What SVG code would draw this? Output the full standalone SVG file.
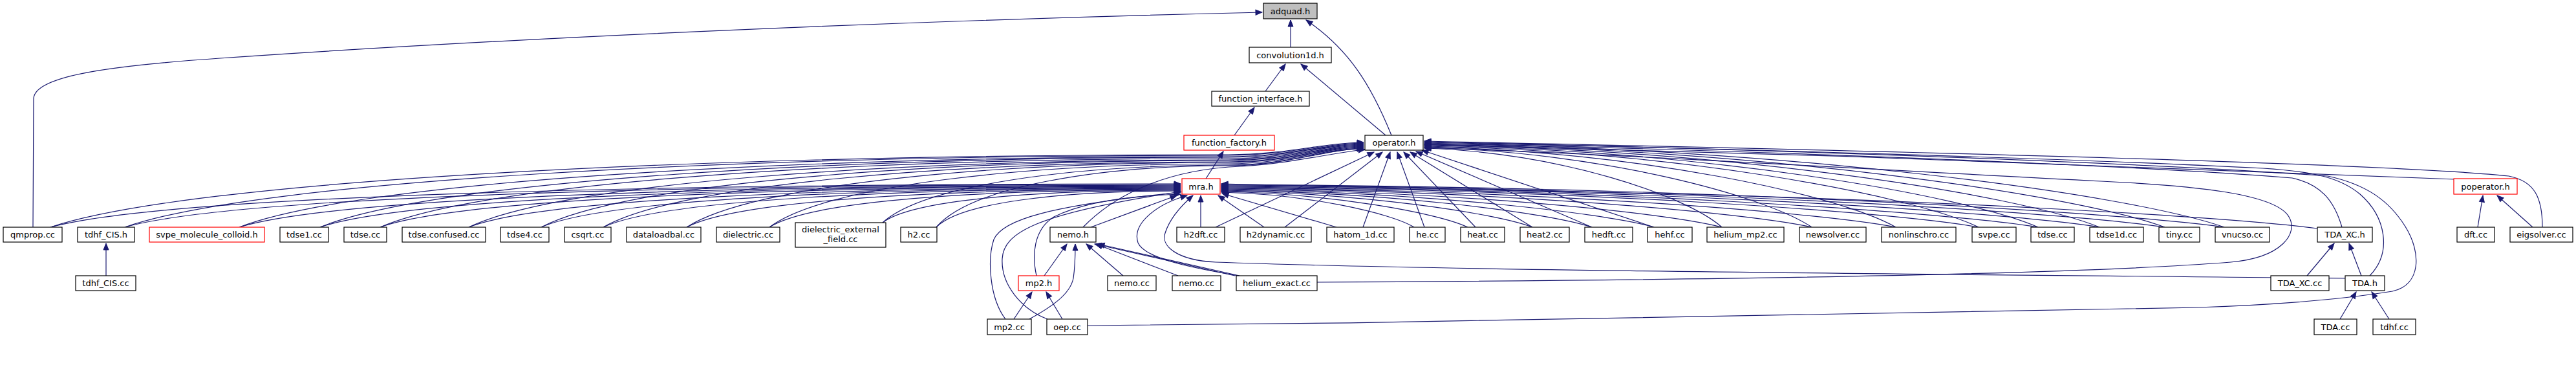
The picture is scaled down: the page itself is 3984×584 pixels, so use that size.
<svg xmlns="http://www.w3.org/2000/svg" width="3984" height="584" viewBox="0 0 3984 584">
<defs>
<marker id="ah" viewBox="0 0 12 10" refX="11" refY="5" markerWidth="12" markerHeight="10" orient="auto" markerUnits="userSpaceOnUse">
<path d="M1,1 L11,5 L1,9 Z" fill="#191970" stroke="#191970" stroke-width="1"/>
</marker>
<style>
.n rect{fill:#fff;stroke:#000;stroke-width:1.2}
.n.red rect{stroke:#ff0000}
.n.root rect{fill:#bfbfbf}
.n text{font-family:"DejaVu Sans","Liberation Sans",sans-serif;font-size:13px;fill:#000;text-anchor:middle}
#edges path{fill:none;stroke:#191970;stroke-width:1.2;marker-end:url(#ah)}
</style>
</defs>
<rect width="3984" height="584" fill="#fff"/>
<g id="edges">
<!-- top structure -->
<path d="M1996,73 L1996,31"/>
<path d="M2152,209 C2120,130 2085,75 2020,31"/>
<path d="M51,351 C51,260 52,190 52,152 C54,120 150,103 340,90 C800,58 1400,32 1952,19"/>
<path d="M1957,141 L1988,99"/>
<path d="M2143,209 L2012,99"/>
<path d="M1909,209 L1940,166"/>
<path d="M1865,276 L1892,234"/>
<!-- left nodes to mra.h -->
<path d="M78,351 C253,304 953,284 1826,284"/>
<path d="M193,351 C357,305 1011,285 1826,285"/>
<path d="M370,351 C516,306 1099,286 1826,286"/>
<path d="M495,351 C628,306 1162,287 1826,287"/>
<path d="M588,351 C712,307 1208,288 1826,288"/>
<path d="M725,351 C835,308 1277,289 1826,289"/>
<path d="M837,351 C936,308 1333,290 1826,290"/>
<path d="M933,351 C1023,309 1381,291 1826,291"/>
<path d="M1062,351 C1139,310 1445,292 1826,292"/>
<path d="M1190,351 C1254,310 1509,293 1826,293"/>
<path d="M1365,344 C1411,309 1597,294 1826,294"/>
<path d="M1448,351 C1486,313 1638,295 1826,295"/>
<!-- left nodes to operator.h -->
<path d="M78,351 C297,278 1080,239 1900,239 C1990,239 2050,220 2109,220"/>
<path d="M193,351 C398,279 1132,240 1900,240 C1990,240 2050,221 2109,221"/>
<path d="M370,351 C554,280 1212,242 1900,242 C1990,242 2050,222 2109,222"/>
<path d="M495,351 C664,281 1268,243 1900,243 C1990,243 2050,223 2109,223"/>
<path d="M588,351 C745,282 1310,245 1900,245 C1990,245 2050,224 2109,224"/>
<path d="M725,351 C866,283 1371,247 1900,247 C1990,247 2050,225 2109,225"/>
<path d="M837,351 C965,284 1422,248 1900,248 C1990,248 2050,226 2109,226"/>
<path d="M933,351 C1049,285 1465,250 1900,250 C1990,250 2050,227 2109,227"/>
<path d="M1062,351 C1163,286 1523,251 1900,251 C1990,251 2050,228 2109,228"/>
<path d="M1190,351 C1275,287 1581,253 1900,253 C1990,253 2050,229 2109,229"/>
<path d="M1365,344 C1429,286 1659,255 1900,255 C1990,255 2050,230 2109,230"/>
<path d="M1448,351 C1502,289 1697,256 1900,256 C1990,256 2050,230 2109,230"/>
<!-- nemo.h -->
<path d="M1687,351 L1820,302"/>
<path d="M1675,351 C1715,310 1790,262 1920,257 C2000,252 2060,236 2111,231"/>
<!-- right nodes to mra.h -->
<path d="M1857,351 L1857,302"/>
<path d="M1955,351 L1884,302"/>
<path d="M2067,351 L1890,299"/>
<path d="M2187,351 C2151,329 2022,300 1889,297"/>
<path d="M2270,351 C2224,329 2059,299 1889,296"/>
<path d="M2370,351 C2312,329 2104,298 1889,295"/>
<path d="M2462,351 C2393,328 2146,297 1889,294"/>
<path d="M2558,351 C2477,328 2189,296 1889,293"/>
<path d="M2663,351 C2570,327 2236,295 1889,292"/>
<path d="M2802,351 C2692,327 2299,294 1889,291"/>
<path d="M2932,351 C2807,327 2357,293 1889,290"/>
<path d="M3060,351 C2919,326 2415,292 1889,289"/>
<path d="M3152,351 C3000,326 2456,291 1889,288"/>
<path d="M3247,351 C3084,325 2499,290 1889,287"/>
<path d="M3348,351 C3173,325 2544,289 1889,286"/>
<path d="M3440,351 C3254,325 2586,288 1889,285"/>
<path d="M3584,353 C3450,335 3000,310 2600,300 C2300,294 2000,286 1889,284"/>
<!-- right nodes to operator.h -->
<path d="M1880,351 L2125,235"/>
<path d="M1987,351 L2138,235"/>
<path d="M2108,351 L2150,235"/>
<path d="M2203,351 L2161,235"/>
<path d="M2282,351 L2171,235"/>
<path d="M2370,351 L2181,235"/>
<path d="M2462,351 L2190,234"/>
<path d="M2558,351 L2199,232"/>
<path d="M2663,351 C2608,302 2410,235 2203,229"/>
<path d="M2802,351 C2730,302 2473,234 2203,228"/>
<path d="M2932,351 C2845,301 2531,233 2203,227"/>
<path d="M3060,351 C2957,301 2589,232 2203,226"/>
<path d="M3152,351 C3038,301 2630,231 2203,225"/>
<path d="M3247,351 C3122,300 2673,230 2203,224"/>
<path d="M3348,351 C3211,300 2718,229 2203,223"/>
<path d="M3440,351 C3292,299 2760,228 2203,222"/>
<path d="M3622,351 C3610,310 3590,285 3545,275 C3300,255 2700,232 2203,221"/>
<path d="M3797,277 C3500,262 2700,235 2203,223"/>
<path d="M3932,351 C3932,305 3920,280 3880,272 C3700,253 3000,235 2203,218"/>
<path d="M3665,426 C3700,390 3690,335 3650,300 C3620,275 3580,265 3500,260 C3200,245 2700,230 2203,220"/>
<path d="M1682,503 C2300,498 3000,485 3400,475 C3550,470 3650,458 3700,450 C3745,440 3745,390 3720,350 C3695,310 3660,285 3600,272 C3300,250 2700,230 2203,219"/>
<path d="M2037,436 C2600,433 3200,425 3450,405 C3530,398 3555,360 3540,335 C3520,300 3400,287 3250,280 C2900,262 2500,238 2203,228"/>
<!-- poperator.h -->
<path d="M3832,351 L3840,302"/>
<path d="M3917,351 L3862,302"/>
<!-- TDA -->
<path d="M3568,426 L3610,376"/>
<path d="M3652,426 L3633,376"/>
<path d="M3619,493 L3644,451"/>
<path d="M3695,493 L3668,451"/>
<path d="M3627,430 C3200,425 2300,420 1880,405 C1820,402 1795,380 1802,360 C1810,335 1830,315 1845,302"/>
<!-- tdhf_CIS -->
<path d="M164,426 L164,376"/>
<!-- nemo / mp2 group -->
<path d="M1615,426 L1650,377"/>
<path d="M1568,493 L1596,451"/>
<path d="M1643,493 L1618,451"/>
<path d="M1592,493 C1625,475 1655,455 1660,430 C1663,410 1663,395 1663,377"/>
<path d="M1737,426 L1680,377"/>
<path d="M1822,426 L1695,377"/>
<path d="M1917,426 L1698,377"/>
<path d="M1910,426 L1693,377"/>
<path d="M1603,426 C1596,395 1598,355 1630,335 C1680,310 1760,302 1826,300"/>
<path d="M1555,493 C1530,460 1527,400 1537,370 C1550,340 1620,318 1826,297"/>
<path d="M1620,493 C1580,478 1548,440 1550,400 C1552,360 1600,330 1826,296"/>
<path d="M1915,426 C1850,415 1770,400 1760,375 C1750,345 1790,315 1836,302"/>
</g>
<g id="n_adquad" class="n root"><rect x="1954" y="5" width="83" height="24"/><text x="1995.5" y="21.5">adquad.h</text></g>
<g id="n_convolution1d" class="n"><rect x="1932" y="73" width="127" height="24"/><text x="1995.5" y="89.5">convolution1d.h</text></g>
<g id="n_function_interface" class="n"><rect x="1874" y="141" width="151" height="23"/><text x="1949.5" y="157">function_interface.h</text></g>
<g id="n_function_factory" class="n red"><rect x="1831" y="209" width="140" height="23"/><text x="1901" y="225">function_factory.h</text></g>
<g id="n_operator" class="n"><rect x="2111" y="209" width="90" height="23"/><text x="2156" y="225">operator.h</text></g>
<g id="n_mra" class="n red"><rect x="1828" y="276" width="59" height="24"/><text x="1857.5" y="292.5">mra.h</text></g>
<g id="n_poperator" class="n red"><rect x="3795" y="276" width="98" height="24"/><text x="3844" y="292.5">poperator.h</text></g>
<g id="n_qmprop" class="n"><rect x="5" y="351" width="91" height="23"/><text x="50.5" y="367">qmprop.cc</text></g>
<g id="n_tdhf_CIS_h" class="n"><rect x="120" y="351" width="88" height="23"/><text x="164" y="367">tdhf_CIS.h</text></g>
<g id="n_svpe_molecule_colloid" class="n red"><rect x="231" y="351" width="178" height="23"/><text x="320" y="367">svpe_molecule_colloid.h</text></g>
<g id="n_tdse1" class="n"><rect x="433" y="351" width="75" height="23"/><text x="470.5" y="367">tdse1.cc</text></g>
<g id="n_tdse_a" class="n"><rect x="532" y="351" width="66" height="23"/><text x="565" y="367">tdse.cc</text></g>
<g id="n_tdse_confused" class="n"><rect x="622" y="351" width="129" height="23"/><text x="686.5" y="367">tdse.confused.cc</text></g>
<g id="n_tdse4" class="n"><rect x="774" y="351" width="75" height="23"/><text x="811.5" y="367">tdse4.cc</text></g>
<g id="n_csqrt" class="n"><rect x="873" y="351" width="72" height="23"/><text x="909" y="367">csqrt.cc</text></g>
<g id="n_dataloadbal" class="n"><rect x="969" y="351" width="115" height="23"/><text x="1026.5" y="367">dataloadbal.cc</text></g>
<g id="n_dielectric" class="n"><rect x="1108" y="351" width="98" height="23"/><text x="1157" y="367">dielectric.cc</text></g>
<g id="n_dielectric_external_field" class="n"><rect x="1230" y="344" width="140" height="38"/><text x="1300" y="359">dielectric_external</text><text x="1300" y="374">_field.cc</text></g>
<g id="n_h2" class="n"><rect x="1393" y="351" width="56" height="23"/><text x="1421" y="367">h2.cc</text></g>
<g id="n_nemo_h" class="n"><rect x="1624" y="351" width="71" height="23"/><text x="1659.5" y="367">nemo.h</text></g>
<g id="n_h2dft" class="n"><rect x="1820" y="351" width="74" height="23"/><text x="1857" y="367">h2dft.cc</text></g>
<g id="n_h2dynamic" class="n"><rect x="1918" y="351" width="110" height="23"/><text x="1973" y="367">h2dynamic.cc</text></g>
<g id="n_hatom_1d" class="n"><rect x="2052" y="351" width="104" height="23"/><text x="2104" y="367">hatom_1d.cc</text></g>
<g id="n_he" class="n"><rect x="2180" y="351" width="55" height="23"/><text x="2207.5" y="367">he.cc</text></g>
<g id="n_heat" class="n"><rect x="2259" y="351" width="68" height="23"/><text x="2293" y="367">heat.cc</text></g>
<g id="n_heat2" class="n"><rect x="2351" y="351" width="76" height="23"/><text x="2389" y="367">heat2.cc</text></g>
<g id="n_hedft" class="n"><rect x="2451" y="351" width="74" height="23"/><text x="2488" y="367">hedft.cc</text></g>
<g id="n_hehf" class="n"><rect x="2548" y="351" width="69" height="23"/><text x="2582.5" y="367">hehf.cc</text></g>
<g id="n_helium_mp2" class="n"><rect x="2640" y="351" width="119" height="23"/><text x="2699.5" y="367">helium_mp2.cc</text></g>
<g id="n_newsolver" class="n"><rect x="2783" y="351" width="103" height="23"/><text x="2834.5" y="367">newsolver.cc</text></g>
<g id="n_nonlinschro" class="n"><rect x="2910" y="351" width="115" height="23"/><text x="2967.5" y="367">nonlinschro.cc</text></g>
<g id="n_svpe" class="n"><rect x="3050" y="351" width="68" height="23"/><text x="3084" y="367">svpe.cc</text></g>
<g id="n_tdse_b" class="n"><rect x="3141" y="351" width="67" height="23"/><text x="3174.5" y="367">tdse.cc</text></g>
<g id="n_tdse1d" class="n"><rect x="3232" y="351" width="83" height="23"/><text x="3273.5" y="367">tdse1d.cc</text></g>
<g id="n_tiny" class="n"><rect x="3339" y="351" width="63" height="23"/><text x="3370.5" y="367">tiny.cc</text></g>
<g id="n_vnucso" class="n"><rect x="3426" y="351" width="84" height="23"/><text x="3468" y="367">vnucso.cc</text></g>
<g id="n_TDA_XC_h" class="n"><rect x="3584" y="351" width="85" height="23"/><text x="3626.5" y="367">TDA_XC.h</text></g>
<g id="n_dft" class="n"><rect x="3800" y="351" width="58" height="23"/><text x="3829" y="367">dft.cc</text></g>
<g id="n_eigsolver" class="n"><rect x="3882" y="351" width="97" height="23"/><text x="3930.5" y="367">eigsolver.cc</text></g>
<g id="n_tdhf_CIS_cc" class="n"><rect x="117" y="426" width="93" height="23"/><text x="163.5" y="442">tdhf_CIS.cc</text></g>
<g id="n_mp2_h" class="n red"><rect x="1575" y="426" width="63" height="23"/><text x="1606.5" y="442">mp2.h</text></g>
<g id="n_nemo_cc_a" class="n"><rect x="1713" y="426" width="75" height="23"/><text x="1750.5" y="442">nemo.cc</text></g>
<g id="n_nemo_cc_b" class="n"><rect x="1813" y="426" width="75" height="23"/><text x="1850.5" y="442">nemo.cc</text></g>
<g id="n_helium_exact" class="n"><rect x="1912" y="426" width="125" height="23"/><text x="1974.5" y="442">helium_exact.cc</text></g>
<g id="n_TDA_XC_cc" class="n"><rect x="3512" y="426" width="90" height="23"/><text x="3557" y="442">TDA_XC.cc</text></g>
<g id="n_TDA_h" class="n"><rect x="3627" y="426" width="61" height="23"/><text x="3657.5" y="442">TDA.h</text></g>
<g id="n_mp2_cc" class="n"><rect x="1527" y="493" width="68" height="24"/><text x="1561" y="509.5">mp2.cc</text></g>
<g id="n_oep" class="n"><rect x="1619" y="493" width="63" height="24"/><text x="1650.5" y="509.5">oep.cc</text></g>
<g id="n_TDA_cc" class="n"><rect x="3579" y="493" width="66" height="24"/><text x="3612" y="509.5">TDA.cc</text></g>
<g id="n_tdhf_cc" class="n"><rect x="3670" y="493" width="66" height="24"/><text x="3703" y="509.5">tdhf.cc</text></g>
</svg>
